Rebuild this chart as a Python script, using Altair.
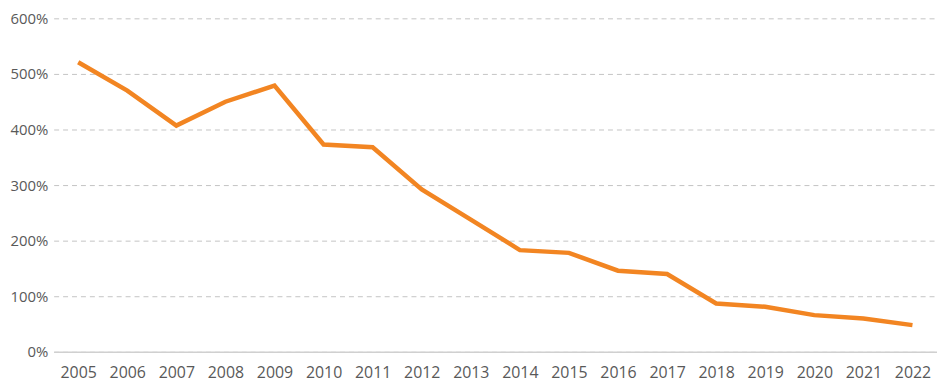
import altair as alt
import pandas as pd

years = [str(y) for y in range(2005, 2023)]
values = [521, 470, 407, 450, 479, 373, 368, 292, 238, 183, 178, 146, 140, 87, 81, 66, 60, 48]

df = pd.DataFrame({"year": years, "value": values})

FONT = "Open Sans"
LABEL = "#595959"

chart = alt.Chart(df).mark_line(
    color="#F28522", strokeWidth=4.5, strokeJoin="miter", strokeCap="butt"
).encode(
    x=alt.X("year:O", sort=years,
            scale=alt.Scale(type="point", padding=0.5),
            axis=alt.Axis(title=None, labelAngle=0, ticks=False, grid=False,
                          domain=True, domainColor="#d0d0d0", domainWidth=1.5,
                          labelPadding=13, labelFontSize=16, labelColor=LABEL,
                          labelFont=FONT)),
    y=alt.Y("value:Q", scale=alt.Scale(domain=[0, 600], nice=False),
            axis=alt.Axis(title=None, values=[0, 100, 200, 300, 400, 500, 600],
                          labelExpr="datum.value + '%'", ticks=False, domain=False,
                          grid=True, gridDash=[5, 4], gridColor="#c4c4c4", gridWidth=1,
                          labelPadding=6, labelFontSize=15, labelColor=LABEL,
                          labelFont=FONT)),
).properties(
    width=890, height=336,
    autosize=alt.AutoSizeParams(type="none"),
    padding={"left": 46, "top": 9, "right": 0, "bottom": 29},
).configure_view(stroke=None)

chart.save("out.html", embed_options={"renderer": "svg", "actions": False})
